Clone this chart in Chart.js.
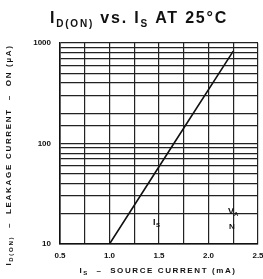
<!DOCTYPE html>
<html>
<head>
<meta charset="utf-8">
<script src="https://cdn.jsdelivr.net/npm/chart.js@4"></script>
<style>
  html, body { margin: 0; padding: 0; background: #fff; }
  #wrap { width: 263px; height: 279px; position: relative; }
</style>
</head>
<body>
<div id="wrap"><canvas id="grafica" width="263" height="279"></canvas></div>
<script>
// datos
const corrienteFuente = [1.0, 1.65, 2.25];   // Is (mA)
const corrienteFuga = [10, 100, 830];        // Id(on) (uA)
const marcasX = [0.5, 1.0, 1.5, 2.0, 2.5];
const marcasY = [10, 100, 1000];

// escribe un texto con partes (texto, tamaño, desplazamiento) centrado en cx
const escribir = (ctx, partes, cx, y, espacio) => {
  ctx.letterSpacing = espacio + 'px';
  let total = 0;
  partes.forEach(p => { ctx.font = 'bold ' + p[1] + 'px "Liberation Sans"'; total += ctx.measureText(p[0]).width; });
  let x = cx - total / 2;
  partes.forEach(p => {
    ctx.font = 'bold ' + p[1] + 'px "Liberation Sans"';
    ctx.fillText(p[0], x, y + p[2]);
    x += ctx.measureText(p[0]).width;
  });
};

// titulos con subindices y notas del esquema
const textos = {
  id: 'textos',
  afterDraw(chart) {
    const ctx = chart.ctx;
    ctx.save();
    ctx.fillStyle = '#111';
    ctx.textBaseline = 'alphabetic';
    escribir(ctx, [['I', 16, 0], ['D(ON)', 10, 4], [' vs. I', 16, 0], ['S', 10, 4], [' AT 25°C', 16, 0]], 139, 23, 1.8);

    // eje x
    escribir(ctx, [['I', 8, 0], ['S', 6, 2], ['  –  SOURCE CURRENT (mA)', 8, 0]], 158, 273, 1.6);

    // eje y girado
    ctx.save();
    ctx.translate(11, 155);
    ctx.rotate(-Math.PI / 2);
    escribir(ctx, [['I', 8, 0], ['D(ON)', 6, 2], ['  –  LEAKAGE CURRENT  –  ON (µA)', 8, 0]], 0, 0, 1.7);
    ctx.restore();

    // notas dentro del area
    ctx.letterSpacing = '0px';
    ctx.font = 'bold 9px "Liberation Sans"';
    ctx.fillText('I', 153, 225);
    ctx.font = 'bold 6px "Liberation Sans"';
    ctx.fillText('S', 156, 227);
    ctx.font = 'bold 9px "Liberation Sans"';
    ctx.fillText('V', 228, 214);
    ctx.font = 'bold 6px "Liberation Sans"';
    ctx.fillText('A', 234, 216);
    ctx.font = 'bold 8px "Liberation Sans"';
    ctx.fillText('N', 229, 229);
    ctx.restore();
  }
};

new Chart(document.getElementById('grafica'), {
  type: 'line',
  data: {
    datasets: [{
      data: corrienteFuente.map((x, i) => ({ x: x, y: corrienteFuga[i] })),
      borderColor: '#111',
      borderWidth: 1.6,
      pointRadius: 0,
      tension: 0
    }]
  },
  options: {
    responsive: false,
    animation: false,
    layout: { padding: { top: 43, right: 5, left: 0, bottom: 0 } },
    plugins: { legend: { display: false }, tooltip: { enabled: false } },
    scales: {
      x: {
        type: 'linear',
        min: 0.5,
        max: 2.5,
        ticks: {
          stepSize: 0.25,
          autoSkip: false,
          maxRotation: 0,
          padding: 7,
          color: '#111',
          font: { family: 'Liberation Sans', size: 8, weight: 'bold' },
          callback: v => marcasX.includes(Math.round(v * 100) / 100) ? v.toFixed(1) : ''
        },
        grid: { color: '#222', lineWidth: 1.2, drawTicks: false },
        border: { color: '#111', width: 1.6 },
        afterFit: s => { s.height = 35; s.paddingLeft = 0; s.paddingRight = 0; }
      },
      y: {
        type: 'logarithmic',
        min: 10,
        max: 1000,
        ticks: {
          autoSkip: false,
          padding: 9,
          color: '#111',
          font: { family: 'Liberation Sans', size: 8, weight: 'bold' },
          callback: v => marcasY.includes(v) ? String(v) : ''
        },
        grid: { color: '#222', lineWidth: 1.2, drawTicks: false },
        border: { color: '#111', width: 1.6 },
        afterFit: s => { s.width = 60; s.paddingTop = 0; s.paddingBottom = 0; }
      }
    }
  },
  plugins: [textos]
});
</script>
</body>
</html>
